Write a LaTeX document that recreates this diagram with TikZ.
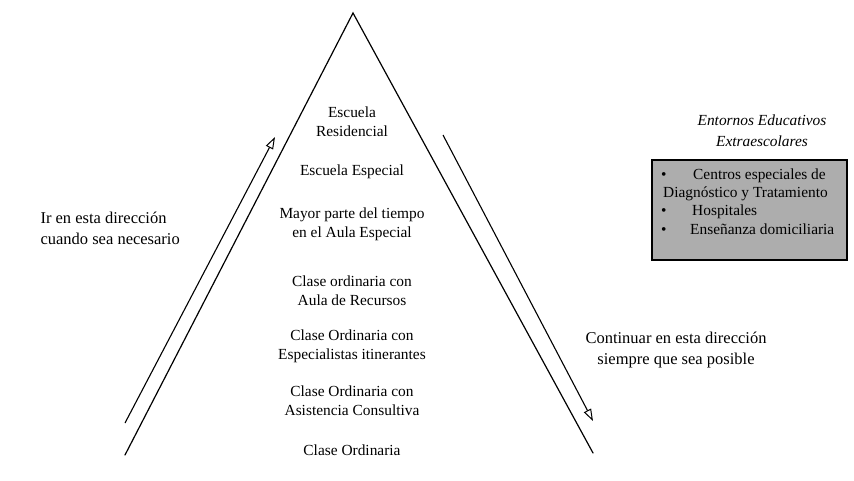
\documentclass[tikz,border=0pt]{standalone}
\usepackage{fontspec}
\setmainfont{Liberation Serif}
\usetikzlibrary{arrows.meta}

\tikzset{
  leg/.style={line width=1.2pt, line cap=round},
  dirarrow/.style={line width=1.1pt, -{Triangle[open, length=12pt, width=8pt, line width=1pt]}},
  level/.style={align=center, font=\fontsize{15.4}{19}\selectfont},
  side/.style={font=\fontsize{16.5}{21}\selectfont},
  boxline/.style={anchor=base west, inner sep=0pt, font=\fontsize{15.4}{18}\selectfont},
  extbox/.style={draw=black, line width=1.4pt, fill=black!32, minimum width=195pt, minimum height=100pt, inner sep=0pt}
}

\begin{document}
\begin{tikzpicture}[x=1pt, y=-1pt]
  \useasboundingbox (0,0) rectangle (854,480);

  % pyramid outline
  \coordinate (apex) at (353,13);
  \coordinate (bl) at (125,455);
  \coordinate (br) at (593,453);
  \draw[leg] (bl) -- (apex) -- (br);

  % direction arrows beside the legs
  \coordinate (upS) at (125,423);
  \coordinate (upE) at (275,137);
  \draw[dirarrow] (upS) -- (upE);
  \coordinate (downS) at (443,135);
  \coordinate (downE) at (593,421);
  \draw[dirarrow] (downS) -- (downE);

  % levels of the pyramid
  \node[level] (l1) at (352,122) {Escuela\\Residencial};
  \node[level] (l2) at (352,172) {Escuela Especial};
  \node[level] (l3) at (352,224) {Mayor parte del tiempo\\en el Aula Especial};
  \node[level] (l4) at (352,291) {Clase ordinaria con\\Aula de Recursos};
  \node[level] (l5) at (352,346) {Clase Ordinaria con\\Especialistas itinerantes};
  \node[level] (l6) at (352,401) {Clase Ordinaria con\\Asistencia Consultiva};
  \node[level] (l7) at (352,450) {Clase Ordinaria};

  % side captions
  \node[side, align=left, anchor=west] (goUp) at (37,228) {Ir en esta dirección\\cuando sea necesario};
  \node[side, align=center] (goDown) at (676,350) {Continuar en esta dirección\\siempre que sea posible};

  % out-of-school settings
  \node[level, font=\fontsize{15.4}{21}\itshape\selectfont] (extTitle) at (762,131) {Entornos Educativos\\Extraescolares};
  \node[extbox] (ext) at (749.5,210) {};
  \node[boxline] (e1b) at (661,179) {\textbullet};
  \node[boxline] (e1) at (693,179) {Centros especiales de};
  \node[boxline] (e1c) at (663,197) {Diagnóstico y Tratamiento};
  \node[boxline] (e2b) at (661,215) {\textbullet};
  \node[boxline] (e2) at (692,215) {Hospitales};
  \node[boxline] (e3b) at (661,234) {\textbullet};
  \node[boxline] (e3) at (690,234) {Enseñanza domiciliaria};
\end{tikzpicture}
\end{document}
